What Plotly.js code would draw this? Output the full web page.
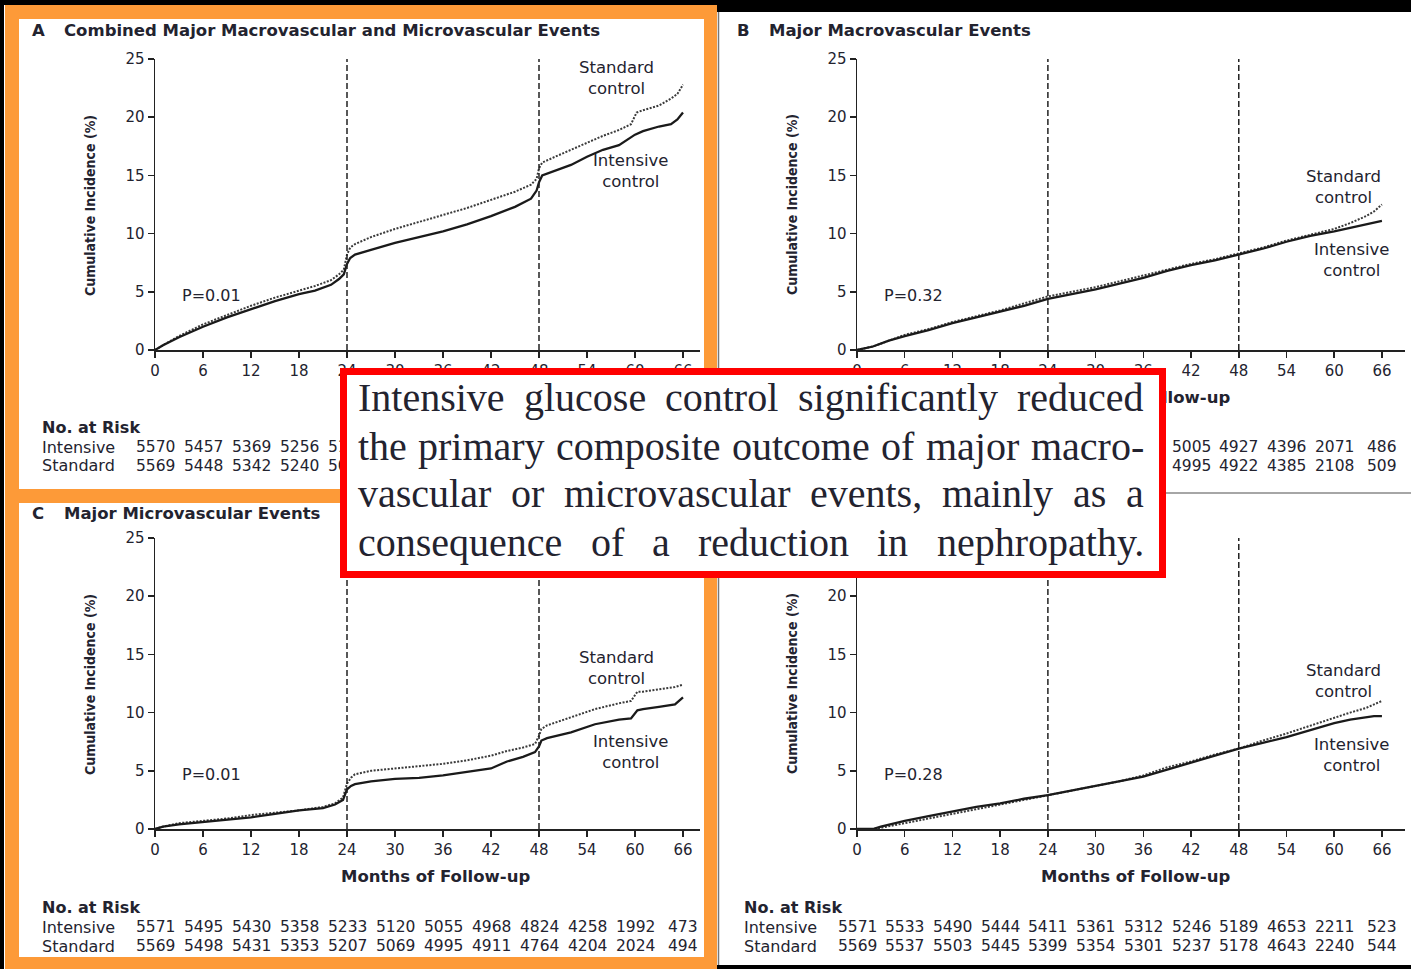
<!DOCTYPE html>
<html>
<head>
<meta charset="utf-8">
<script src="https://cdn.plot.ly/plotly-3.0.1.min.js"></script>
<style>html,body{margin:0;padding:0;background:#fff;}#chart{width:1411px;height:969px;}</style>
</head>
<body>
<div id="chart"></div>
<script>
// ---------------- DATA ----------------
const monthTicks = [0, 6, 12, 18, 24, 30, 36, 42, 48, 54, 60, 66];
const yTicks = [0, 5, 10, 15, 20, 25];

// Panel A: Combined major macrovascular and microvascular events
const monthsA_int = [0,1,3,6,9,12,15,18,20,22,23,23.6,24,24.4,25,27,30,33,36,39,42,45,47,47.7,48,48.4,50,52,54,56,58,60,61,63,64.5,65.3,66];
const incA_int    = [0,0.4,1.1,2.0,2.8,3.5,4.2,4.8,5.1,5.6,6.1,6.5,7.4,7.9,8.2,8.6,9.2,9.7,10.2,10.8,11.5,12.3,13.0,13.7,14.4,15.0,15.4,15.9,16.6,17.2,17.6,18.5,18.8,19.2,19.4,19.8,20.4];
const monthsA_std = [0,1,3,6,9,12,15,18,20,22,23,23.6,24,24.4,25,27,30,33,36,39,42,45,47,47.7,48,48.4,50,52,54,56,58,59.5,60.2,61,63,64.5,65.3,66];
const incA_std    = [0,0.4,1.2,2.2,3.0,3.8,4.5,5.1,5.5,6.0,6.5,6.9,8.2,8.8,9.1,9.7,10.4,11.0,11.6,12.2,12.9,13.6,14.2,14.7,15.6,16.1,16.6,17.2,17.8,18.4,18.9,19.4,20.4,20.6,21.0,21.6,22.0,22.8];

// Panel B: Major macrovascular events
const monthsB = [0,2,4,6,9,12,15,18,21,24,27,30,33,36,39,42,45,48,51,54,57,60,62,64,65,66];
const incB_std = [0,0.3,0.8,1.3,1.8,2.4,2.9,3.4,4.0,4.6,5.0,5.4,5.9,6.4,6.9,7.4,7.8,8.3,8.8,9.4,9.9,10.4,10.9,11.5,11.9,12.5];
const incB_int = [0,0.3,0.8,1.2,1.7,2.3,2.8,3.3,3.8,4.4,4.8,5.2,5.7,6.2,6.8,7.3,7.7,8.2,8.7,9.3,9.8,10.2,10.5,10.8,10.9,11.1];

// Panel C: Major microvascular events
const monthsC = [0,1,3,6,9,12,15,18,21,22.5,23.5,24,24.5,25,27,30,33,36,39,42,44,46,47.5,48,48.3,49,52,55,58,59.5,60.3,61,63,65,66];
const incC_int = [0,0.2,0.4,0.6,0.8,1.0,1.3,1.6,1.8,2.1,2.5,3.4,3.7,3.85,4.1,4.3,4.4,4.6,4.9,5.2,5.8,6.2,6.6,7.1,7.6,7.8,8.3,9.0,9.4,9.5,10.2,10.3,10.5,10.7,11.3];
const incC_std = [0,0.2,0.5,0.7,0.9,1.2,1.4,1.6,1.9,2.2,2.7,3.9,4.4,4.7,5.0,5.2,5.4,5.6,5.9,6.3,6.7,7.0,7.3,8.0,8.6,8.9,9.6,10.3,10.8,11.0,11.8,11.8,12.0,12.2,12.4];

// Panel D
const monthsD = [0,2,3,6,9,12,15,18,21,24,27,30,33,36,39,42,45,48,51,54,57,60,62,64,65,66];
const incD_std = [0,0,0.1,0.5,0.9,1.3,1.7,2.1,2.5,2.9,3.3,3.7,4.1,4.6,5.3,5.8,6.4,6.9,7.6,8.2,8.9,9.6,10.0,10.4,10.7,11.0];
const incD_int = [0,0,0.2,0.7,1.1,1.5,1.9,2.2,2.6,2.9,3.3,3.7,4.1,4.5,5.1,5.7,6.3,6.9,7.4,7.9,8.5,9.1,9.4,9.6,9.7,9.7];

// Numbers at risk (null = hidden behind the callout box)
const riskA_int = [5570,5457,5369,5256,5121,null,null,null,null,null,null,null];
const riskA_std = [5569,5448,5342,5240,5099,null,null,null,null,null,null,null];
const riskB_int = [null,null,null,null,null,null,null,5005,4927,4396,2071,486];
const riskB_std = [null,null,null,null,null,null,null,4995,4922,4385,2108,509];
const riskC_int = [5571,5495,5430,5358,5233,5120,5055,4968,4824,4258,1992,473];
const riskC_std = [5569,5498,5431,5353,5207,5069,4995,4911,4764,4204,2024,494];
const riskD_int = [5571,5533,5490,5444,5411,5361,5312,5246,5189,4653,2211,523];
const riskD_std = [5569,5537,5503,5445,5399,5354,5301,5237,5178,4643,2240,544];

const panelTitles = ["Combined Major Macrovascular and Microvascular Events", "Major Macrovascular Events", "Major Microvascular Events", ""];
const panelLetters = ["A", "B", "C", ""];
const pValues = ["P=0.01", "P=0.32", "P=0.01", "P=0.28"];
const calloutLines = [
  "Intensive glucose control significantly reduced",
  "the primary composite outcome of major macro-",
  "vascular or microvascular events, mainly as a",
  "consequence of a reduction in nephropathy."
];

// ---------------- LAYOUT ----------------
const W = 1411, H = 969;
const px = x => x / W;
const py = y => 1 - y / H;
const SANS = '"DejaVu Sans", sans-serif';
const COND = '"DejaVu Sans Condensed", "Liberation Sans Narrow", "DejaVu Sans", sans-serif';
const SERIF = '"Liberation Serif", "DejaVu Serif", serif';
const INK = '#23232f';
const ORANGE = '#fd9a38';

// visible flags: texts that lie fully under the callout box are not drawn
const panels = [
  {xd:[155,700], yd:[59,350], xr:68.125, lx:30,  ty:31,  ax:'', stdL:[616,78],  intL:[631,171], pL:[180,295], riskY:427, monthsY:397, ytY:205, ytX:90, showMonths:false, showRiskLabels:true, top25:true},
  {xd:[857,1405], yd:[59,350], xr:68.9,  lx:735, ty:31,  ax:'2', stdL:[1343,187], intL:[1352,260], pL:[882,295], riskY:427, monthsY:397, ytY:205, ytX:792, showMonths:true, showRiskLabels:false, top25:true},
  {xd:[155,700], yd:[538,829], xr:68.125, lx:30, ty:513, ax:'3', stdL:[616,668], intL:[631,752], pL:[180,774], riskY:907, monthsY:876, ytY:684, ytX:90, showMonths:true, showRiskLabels:true, top25:true},
  {xd:[857,1405], yd:[538,829], xr:68.9, lx:735, ty:993, ax:'4', stdL:[1343,681], intL:[1352,755], pL:[882,774], riskY:907, monthsY:876, ytY:684, ytX:792, showMonths:true, showRiskLabels:true, top25:false}
];
const series = [
  [monthsA_std, incA_std, monthsA_int, incA_int, riskA_int, riskA_std],
  [monthsB, incB_std, monthsB, incB_int, riskB_int, riskB_std],
  [monthsC, incC_std, monthsC, incC_int, riskC_int, riskC_std],
  [monthsD, incD_std, monthsD, incD_int, riskD_int, riskD_std]
];

const data = [];
const layout = {
  width: W, height: H,
  margin: {l:0, r:0, t:0, b:0},
  paper_bgcolor: '#ffffff', plot_bgcolor: 'rgba(0,0,0,0)',
  showlegend: false,
  font: {family: SANS, color: INK},
  shapes: [], annotations: []
};

function ann(text, x, y, o) {
  o = o || {};
  return Object.assign({text: text, x: px(x), y: py(y), xref:'paper', yref:'paper', showarrow:false,
    xanchor: o.xa || 'left', yanchor: 'middle', align: o.align || 'left',
    font: {family: o.family || SANS, size: o.size || 15, color: o.color || INK, weight: o.weight || 'normal'}}, o.extra || {});
}
function rect(x0, y0, x1, y1, color) {
  return {type:'rect', xref:'paper', yref:'paper', x0:px(x0), x1:px(x1), y0:py(y0), y1:py(y1),
    fillcolor: color, line:{width:0}, layer:'below'};
}

panels.forEach((p, i) => {
  const s = series[i];
  const xa = 'x' + p.ax, ya = 'y' + p.ax;
  data.push({x: s[0], y: s[1], xaxis: xa, yaxis: ya, type:'scatter', mode:'lines',
    line:{color:'#3a3a3a', width:2, dash:'2px,1.5px'}, hoverinfo:'skip'});
  data.push({x: s[2], y: s[3], xaxis: xa, yaxis: ya, type:'scatter', mode:'lines',
    line:{color:'#1a1a1a', width:2.3}, hoverinfo:'skip'});
  const axCommon = {showgrid:false, zeroline:false, showline:true, linecolor:'#222', linewidth:1.5,
    ticks:'outside', tickcolor:'#222', tickwidth:1.5, fixedrange:true,
    tickfont:{family:SANS, size:15, color:INK}};
  layout['xaxis' + p.ax] = Object.assign({}, axCommon, {domain:[px(p.xd[0]), px(p.xd[1])], range:[0, p.xr],
    tickmode:'array', tickvals: monthTicks, ticktext: monthTicks.map(String), ticklen:6, anchor: ya});
  layout['yaxis' + p.ax] = Object.assign({}, axCommon, {domain:[py(p.yd[1]), py(p.yd[0])], range:[0, 25],
    tickmode:'array', tickvals: yTicks, ticktext: yTicks.map(v => (v === 25 && !p.top25) ? '' : String(v)), ticklen:6, anchor: xa});
  [24, 48].forEach(m => layout.shapes.push({type:'line', xref: xa, yref: ya, x0:m, x1:m, y0:0, y1:25.4,
    line:{color:'#222', width:1.5, dash:'6px,3px'}}));

  // texts
  if (panelLetters[i]) {
    layout.annotations.push(ann('<b>' + panelLetters[i] + '</b>', p.lx, p.ty, {size:16.5}));
    layout.annotations.push(ann(panelTitles[i], p.lx + 32, p.ty, {size:16.5, weight:'bold'}));
  }
  layout.annotations.push(ann('Cumulative Incidence (%)', p.ytX, p.ytY,
    {family: COND, size:14, weight:'bold', xa:'center', extra:{textangle:-90}}));
  if (p.showMonths) {
    layout.annotations.push({text:'Months of Follow-up', x: 35, xref: xa, y: py(p.monthsY), yref:'paper',
      showarrow:false, xanchor:'center', yanchor:'middle', font:{family:SANS, size:16.5, weight:'bold', color:INK}});
  }
  layout.annotations.push(ann('Standard<br>control', p.stdL[0], p.stdL[1], {size:16.5, xa:'center', align:'center'}));
  layout.annotations.push(ann('Intensive<br>control', p.intL[0], p.intL[1], {size:16.5, xa:'center', align:'center'}));
  layout.annotations.push(ann(pValues[i], p.pL[0], p.pL[1], {size:16}));
  const rx = p.xd[0] < 500 ? 40 : 742;
  if (p.showRiskLabels) {
    layout.annotations.push(ann('No. at Risk', rx, p.riskY, {size:16, weight:'bold'}));
    layout.annotations.push(ann('Intensive', rx, p.riskY + 20, {size:16}));
    layout.annotations.push(ann('Standard', rx, p.riskY + 39, {size:16}));
  }
  [[s[4], 20], [s[5], 39]].forEach(([arr, dy]) => {
    arr.forEach((v, k) => {
      if (v === null) return;
      layout.annotations.push({text: String(v), x: monthTicks[k], xref: xa, y: py(p.riskY + dy), yref:'paper',
        showarrow:false, xanchor:'center', yanchor:'middle', font:{family:SANS, size:15.5, color:INK}});
    });
  });
});

// frame
layout.shapes.push(rect(0, 0, 1411, 5, '#000'));
layout.shapes.push(rect(717, 0, 1411, 12, '#000'));
layout.shapes.push(rect(0, 0, 4, 969, '#000'));
layout.shapes.push(rect(717, 965, 1411, 969, '#000'));
layout.shapes.push(rect(5, 5, 19, 969, ORANGE));
layout.shapes.push(rect(704, 5, 717, 969, ORANGE));
layout.shapes.push(rect(5, 5, 717, 19, ORANGE));
layout.shapes.push(rect(5, 489, 717, 503, ORANGE));
layout.shapes.push(rect(5, 957, 717, 969, ORANGE));
layout.shapes.push({type:'line', xref:'paper', yref:'paper', x0:px(718.5), x1:px(718.5), y0:py(12), y1:py(965), line:{color:'#777', width:1.5}, layer:'below'});
layout.shapes.push({type:'line', xref:'paper', yref:'paper', x0:px(718), x1:px(1411), y0:py(493), y1:py(493), line:{color:'#888', width:1.5}, layer:'below'});

// callout box (annotation so that it sits above all other texts)
const BW = 7;
layout.annotations.push({text:' ', x: px((340 + 1166) / 2), y: py((368 + 578) / 2), xref:'paper', yref:'paper',
  showarrow:false, xanchor:'center', yanchor:'middle', width: 826 - 2 * BW, height: 210 - 2 * BW,
  bgcolor:'#ffffff', bordercolor:'#ff0000', borderwidth: BW, borderpad: 0, font:{size:10}});

// justified callout text
const ctx = document.createElement('canvas').getContext('2d');
function tw(s, fs) { ctx.font = fs + 'px "Liberation Serif"'; return ctx.measureText(s).width; }
const L = 357, R = 1143;
let fs = 36 * (R - L) / tw(calloutLines[1], 36);
fs = Math.max(30, Math.min(40, fs));
const lineY = [398, 446, 494, 542];
calloutLines.forEach((line, li) => {
  const words = line.split(' ');
  const widths = words.map(w => tw(w, fs));
  const total = widths.reduce((a, b) => a + b, 0);
  const gap = (R - L - total) / (words.length - 1);
  let x = L;
  words.forEach((w, wi) => {
    layout.annotations.push({text: w, x: px(x), y: py(lineY[li]), xref:'paper', yref:'paper', showarrow:false,
      xanchor:'left', yanchor:'middle', borderpad:0, font:{family:SERIF, size:fs, color:'#23232f'}});
    x += widths[wi] + gap;
  });
});

Plotly.newPlot('chart', data, layout, {staticPlot:true, displayModeBar:false});
</script>
</body>
</html>
